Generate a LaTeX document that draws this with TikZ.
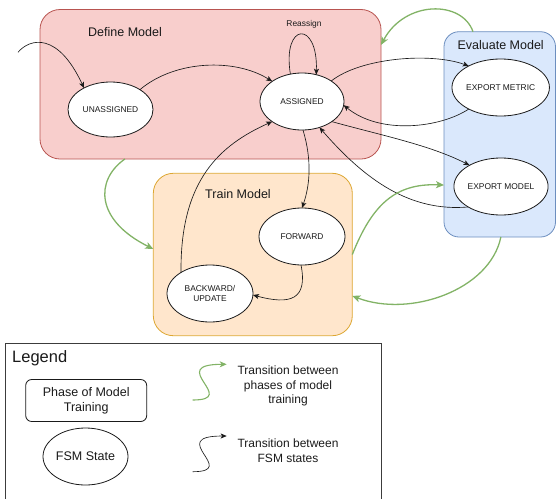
\documentclass[tikz,border=0pt]{standalone}
\usepackage{fontspec}
\setmainfont{Liberation Sans}
\usetikzlibrary{shapes.geometric,arrows.meta,calc}

\definecolor{defFill}{HTML}{F8CECC}
\definecolor{defLine}{HTML}{B85450}
\definecolor{trainFill}{HTML}{FFE6CC}
\definecolor{trainLine}{HTML}{DDA732}
\definecolor{evalFill}{HTML}{DAE8FC}
\definecolor{evalLine}{HTML}{6C8EBF}
\definecolor{phaseArrow}{HTML}{82B366}
\definecolor{ink}{HTML}{1A1A1A}

\tikzset{
  phasebox/.style={rectangle, inner sep=0pt, outer sep=0pt, line width=0.8pt},
  phasetitle/.style={text=ink, font=\fontsize{12.5}{15}\selectfont, inner sep=0pt},
  state/.style={ellipse, draw=ink, fill=white, line width=0.8pt, inner sep=0pt, outer sep=0pt,
    minimum width=86pt, minimum height=57pt, align=center, text=ink,
    font=\fontsize{8.4}{10.6}\selectfont},
  fsmedge/.style={draw=ink, line width=0.65pt, -{Stealth[length=6pt,width=5pt,inset=1.5pt]}},
  phaseedge/.style={draw=phaseArrow, line width=1.3pt, -{Stealth[length=8pt,width=7pt,inset=2pt]}},
  legendtext/.style={text=ink, font=\fontsize{12}{14.6}\selectfont, align=center, inner sep=0pt},
}

\begin{document}
\begin{tikzpicture}[x=1pt,y=-1pt]
\useasboundingbox (0,0) rectangle (556,498);

% phases of model training
\node[phasebox, draw=defLine, fill=defFill, rounded corners=20pt,
      minimum width=341pt, minimum height=149.5pt] (def) at (210.5,84.25) {};
\node[phasebox, draw=trainLine, fill=trainFill, rounded corners=20pt,
      minimum width=199pt, minimum height=162.4pt] (train) at (252.8,254.5) {};
\node[phasebox, draw=evalLine, fill=evalFill, rounded corners=15pt,
      minimum width=111.5pt, minimum height=205.3pt] (eval) at (499.75,134.35) {};

\node[phasetitle] (defT) at (125,32) {Define Model};
\node[phasetitle] (trainT) at (238,194) {Train Model};
\node[phasetitle] (evalT) at (500.7,45) {Evaluate Model};

% FSM states
\node[state, minimum width=85pt, minimum height=55pt] (un) at (110.5,109.5) {UNASSIGNED};
\node[state, minimum width=84pt] (as) at (302,101.5) {ASSIGNED};
\node[state] (em) at (500.7,87.5) {EXPORT METRIC};
\node[state] (emo) at (501,186.5) {EXPORT MODEL};
\node[state] (fwd) at (302,236.5) {FORWARD};
\node[state] (bwd) at (210,293.5) {BACKWARD/\\UPDATE};

% FSM transitions
\coordinate (entry) at (18,52.3);
\draw[fsmedge] (entry) .. controls (30,38) and (58,32) .. (un.141);
\draw[fsmedge] (un.34) .. controls (175,60) and (235,58) .. (as.146);
\draw[fsmedge] (as.113) .. controls (282,22) and (318,20) .. (as.62);
\node[text=ink, font=\fontsize{8.4}{10}\selectfont, inner sep=0pt] (reassign) at (304,24) {Reassign};
\draw[fsmedge] (as.35) .. controls (360,58) and (430,52) .. (em.146);
\draw[fsmedge] (em.214) .. controls (440,128) and (380,135) .. (as.355);
\draw[fsmedge] (as.326) .. controls (380,135) and (430,145) .. (emo.146);
\draw[fsmedge] (emo.212) .. controls (410,212) and (365,180) .. (as.304);
\draw[fsmedge] (as.272) .. controls (312,160) and (310,185) .. (fwd.north);
\draw[fsmedge] (fwd.268) .. controls (308,300) and (290,305) .. (bwd.358);
\draw[fsmedge] (bwd.144) .. controls (180,180) and (220,145) .. (as.214);

% transitions between phases
\draw[phaseedge] ($(def.south west)!0.249!(def.south east)$)
  .. controls (95,180) and (95,220) .. ($(train.north west)!0.466!(train.south west)$);
\draw[phaseedge] (train.east)
  .. controls (372,205) and (395,183) .. ($(eval.north west)!0.747!(eval.south west)$);
\draw[phaseedge] ($(eval.south west)!0.51!(eval.south east)$)
  .. controls (490,290) and (410,318) .. ($(train.north east)!0.755!(train.south east)$);
\draw[phaseedge] ($(eval.north west)!0.26!(eval.north east)$)
  .. controls (462,0) and (405,0) .. ($(def.north east)!0.237!(def.south east)$);

% legend (its lower edge runs past the page)
\node[rectangle, draw=ink!85, line width=0.8pt, inner sep=0pt,
      minimum width=376pt, minimum height=162pt] (legend) at (193,424.5) {};
\node[text=ink, font=\fontsize{16.5}{19}\selectfont, anchor=west, inner sep=0pt] (legendT) at (12,358) {Legend};
\node[rectangle, draw=ink, line width=0.8pt, rounded corners=6pt, inner sep=0pt,
      minimum width=121pt, minimum height=42pt, align=center, text=ink,
      font=\fontsize{12.5}{15}\selectfont] (phaseKey) at (86.2,400.5) {Phase of Model\\Training};
\node[state, minimum width=85pt, font=\fontsize{12.5}{15}\selectfont] (stateKey) at (85.5,456.5) {FSM State};

\coordinate (gA) at (192.7,400);
\coordinate (gB) at (226.7,364.3);
\draw[phaseedge, line width=1.1pt, -{Stealth[length=7pt,width=6pt,inset=2pt]}]
  (gA) .. controls (240,400) and (165,364.3) .. (gB);
\node[legendtext] (gText) at (288,386) {Transition between\\phases of model\\training};

\coordinate (bA) at (192.7,471.7);
\coordinate (bB) at (226.7,436);
\draw[fsmedge] (bA) .. controls (240,471.7) and (165,436) .. (bB);
\node[legendtext] (bText) at (288,450.5) {Transition between\\FSM states};
\end{tikzpicture}
\end{document}
